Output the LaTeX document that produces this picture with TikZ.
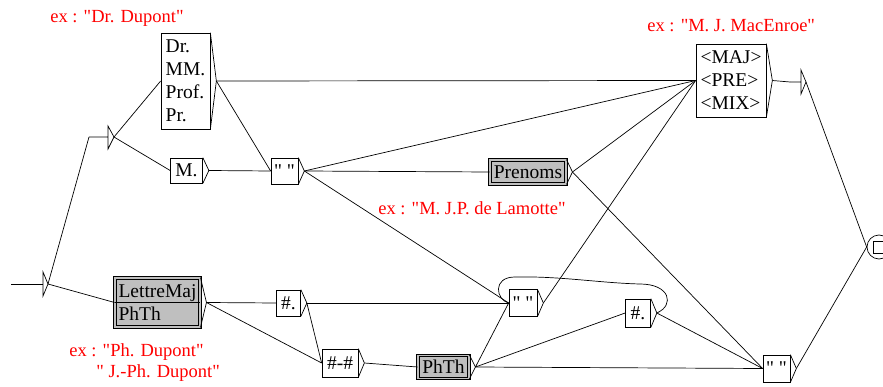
\documentclass[tikz,border=0pt]{standalone}
\usepackage{fontspec}
\setmainfont[Ligatures=TeXOff]{Liberation Serif}
\usetikzlibrary{calc}

\begin{document}
\begin{tikzpicture}[x=1pt, y=-1pt, line width=0.7pt]

% Styles
\tikzstyle{tbox}    = [draw, rectangle, inner sep=1pt, align=left, font=\fontsize{19.5}{23}\selectfont]
\tikzstyle{callbox} = [tbox, fill=black!25, line width=0.9pt, double=black!25, double distance=1.3pt]
\tikzstyle{note}    = [text=red, align=left, inner sep=0pt, font=\fontsize{18.5}{21}\selectfont]

\useasboundingbox (0,0) rectangle (883,387);

% Nodes
\node [tbox, minimum width=49pt, minimum height=96pt] (titre) at (185.5,81) {Dr.\\MM.\\Prof.\\Pr.};
\node [tbox, minimum width=32pt, minimum height=25pt] (m) at (186.5,170.5) {M.};
\node [tbox, minimum width=27pt, minimum height=26pt] (esp1) at (284.5,171) {" "};
\node [callbox, minimum width=76pt, minimum height=24pt] (prenoms) at (528,172) {Prenoms};
\node [tbox, minimum width=70pt, minimum height=73pt] (maj) at (731,80.5) {<MAJ>\\<PRE>\\<MIX>};
\node [callbox, minimum width=85pt, minimum height=49pt] (lettre) at (157.5,302.5) {LettreMaj\\PhTh};
\node [tbox, minimum width=24pt, minimum height=26pt] (pt1) at (288.5,303) {\#.};
\node [tbox, minimum width=36pt, minimum height=28pt] (tiret) at (340,363) {\#-\#};
\node [callbox, minimum width=51pt, minimum height=23pt] (phth) at (443.5,367) {PhTh};
\node [tbox, minimum width=28pt, minimum height=27pt] (esp2) at (523,303) {" "};
\node [tbox, minimum width=25pt, minimum height=28pt] (pt2) at (638,313) {\#.};
\node [tbox, minimum width=27pt, minimum height=27pt] (esp3) at (776.5,368.5) {" "};
\node [draw, circle, inner sep=0pt, minimum size=24pt] (fin) at (879,247) {};
\draw ($(fin)+(-6,-6)$) rectangle ($(fin)+(7,6)$);
\draw (lettre.west) -- (lettre.east);

% Initial and empty boxes
\coordinate (start) at (11,284);
\coordinate (init) at (43,284);
\draw (init) ++(0,-12) -- ++(5,12) coordinate (inito) -- ++(-5,12) -- cycle;
\coordinate (eps1) at (89,137);
\draw (eps1) -- ++(19,0) ++(0,-11) -- ++(6,11) coordinate (eps1o) -- ++(-6,12) -- cycle;
\coordinate (eps2) at (790,82);
\draw (eps2) -- ++(11,0) ++(0,-12) -- ++(5,12) coordinate (eps2o) -- ++(-5,12) -- cycle;

% Box outputs
\foreach \n in {titre,m,esp1,prenoms,maj,lettre,pt1,tiret,phth,esp2,pt2,esp3}
  \draw (\n.north east) -- ($(\n.east)+(6,0)$) coordinate (\n o) -- (\n.south east);

% Comments
\node [note, anchor=base west] (ex1) at (50,23) {ex : "Dr. Dupont"};
\node [note, anchor=base west] (ex2) at (647,32) {ex : "M. J. MacEnroe"};
\node [note, anchor=base west] (ex3) at (378,215) {ex : "M. J.P. de Lamotte"};
\node [note, anchor=north west] (ex4) at (69,343) {ex : "Ph. Dupont"\\\hspace*{27pt}" J.-Ph. Dupont"};

% Connections
\draw (start) -- (init);
\draw (inito) -- (eps1);
\draw (inito) -- (lettre.west);
\draw (eps1o) -- (titre.west);
\draw (eps1o) -- (m.west);
\draw (titreo) -- (maj.west);
\draw (titreo) -- (esp1.west);
\draw (mo) -- (esp1.west);
\draw (esp1o) -- (maj.west);
\draw (esp1o) -- (prenoms.west);
\draw (esp1o) -- (esp2.west);
\draw (prenomso) -- (maj.west);
\draw (prenomso) -- (esp3.west);
\draw (lettreo) -- (pt1.west);
\draw (lettreo) -- (tiret.west);
\draw (pt1o) -- (tiret.west);
\draw (pt1o) -- (esp2.west);
\draw (tireto) -- (phth.west);
\draw (phtho) -- (esp2.west);
\draw (phtho) -- (pt2.west);
\draw (phtho) -- (esp3.west);
\draw (esp2o) -- (maj.west);
\draw (pt2o) .. controls (675,305) and (670,284) .. (640,284)
  .. controls (600,283) and (560,276) .. (515,277)
  .. controls (492,277) and (496,300) .. (esp2.west);
\draw (pt2o) -- (esp3.west);
\draw (esp3o) -- (fin.west);
\draw (majo) -- (eps2);
\draw (eps2o) -- (fin.west);

\end{tikzpicture}
\end{document}
